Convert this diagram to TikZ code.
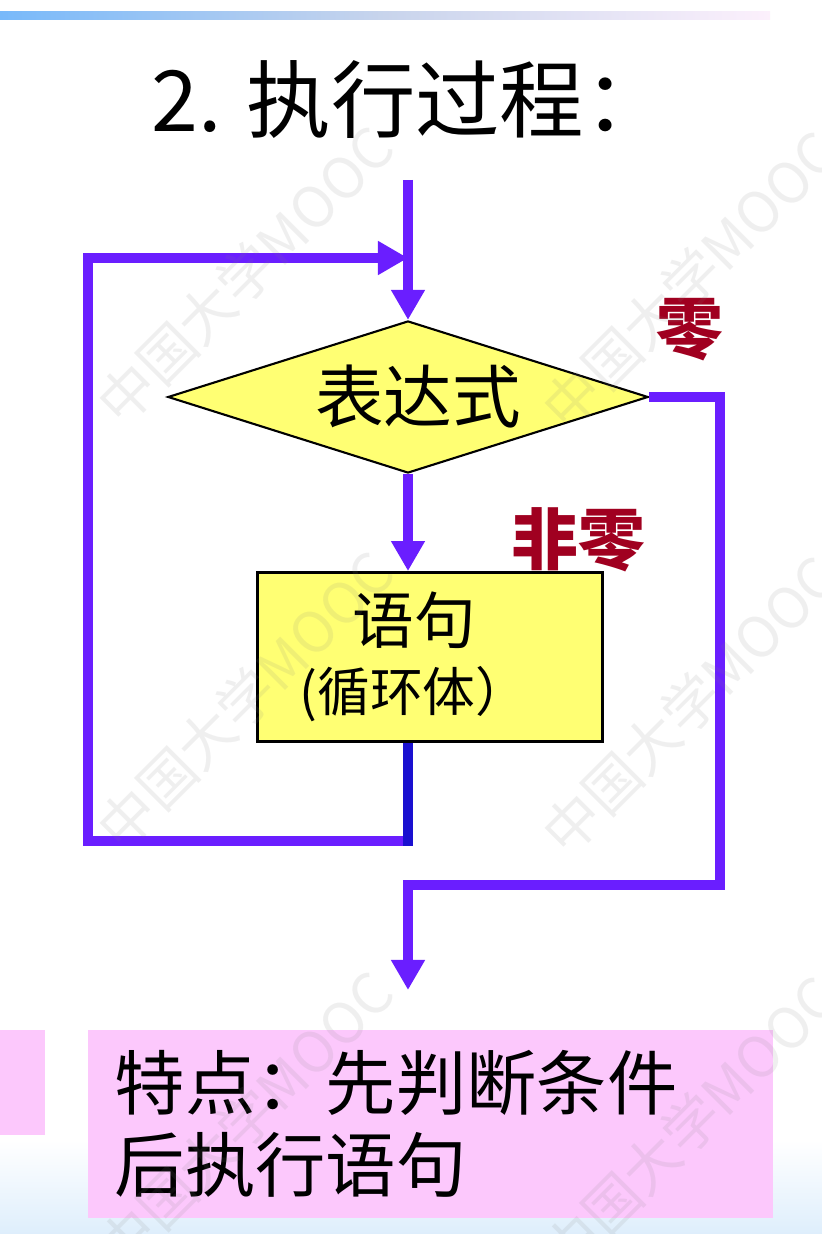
\documentclass[tikz,border=0pt]{standalone}
\usepackage{fontspec}
\setmainfont{Noto Sans CJK SC}
\usetikzlibrary{arrows.meta,shapes.geometric}
\definecolor{flowc}{RGB}{106,30,255}
\definecolor{backc}{RGB}{26,16,208}
\definecolor{condfill}{RGB}{255,255,115}
\definecolor{notefill}{RGB}{252,200,252}
\definecolor{lblc}{RGB}{160,0,32}
\definecolor{barl}{RGB}{120,185,250}
\definecolor{barm}{RGB}{200,212,236}
\definecolor{barr}{RGB}{252,240,252}
\definecolor{floorc}{RGB}{222,238,252}

\begin{document}
\begin{tikzpicture}[
  x=0.01cm, y=-0.01cm,
  >=Latex,
  flow/.style={draw=flowc,line width=1mm,-{Triangle[length=3mm,width=3.2mm]}},
  back/.style={draw=backc,line width=1mm},
  cond/.style={diamond,draw,line width=0.6pt,fill=condfill,aspect=3.16,
    minimum width=4.8cm,minimum height=1.52cm,inner sep=0pt,
    font=\fontsize{19.5pt}{22pt}\selectfont},
  stmt/.style={rectangle,draw,line width=0.8pt,fill=condfill,
    minimum width=3.44cm,minimum height=1.69cm,inner sep=0pt},
  lbl/.style={text=lblc,inner sep=0pt,font=\fontsize{19pt}{22pt}\selectfont\bfseries},
  note/.style={rectangle,fill=notefill,text width=6.31cm,inner xsep=0.27cm,
    minimum height=1.88cm,align=left,font=\fontsize{20pt}{23.4pt}\selectfont},
  wmark/.style={rotate=45,text=gray,opacity=0.12,font=\fontsize{16pt}{18pt}\selectfont},
]
\useasboundingbox (0,0) rectangle (822,1234);

% ---------- page ----------
\fill[white] (0,0) rectangle (822,1234);
\shade[left color=barl,right color=barr,middle color=barm] (0,12) rectangle (770,20);
\shade[top color=white,bottom color=floorc] (0,1140) rectangle (822,1234);

\node[font=\fontsize{24pt}{28pt}\selectfont] (ttl) at (410,100) {2. 执行过程：};

% ---------- flow chart ----------
\coordinate (start)  at (408,180);
\coordinate (loopbl) at (88,841);
\coordinate (looptl) at (88,258);
\coordinate (exitbr) at (720,885);
\coordinate (stop)   at (408,990);

\node[cond] (test) at (408,397) {\hspace*{0.2cm}表达式};
\node[stmt] (body) at (430,657) {};
\node[align=center,inner sep=0pt,font=\fontsize{17.5pt}{19.5pt}\selectfont] (bodytxt) at (414,657)
  {语句\\{\fontsize{15pt}{19pt}\selectfont (循环体）}};

\node[lbl] (zero)    at (690,330) {零};
\node[lbl] (nonzero) at (578,540) {非零};

\draw[flow] (start) -- (test.north);
\draw[flow] (test.south) -- (test.south |- body.north);
\draw[flow] (test.south |- loopbl) -- (loopbl) -- (looptl) -- (looptl -| test.north);
\draw[back] (test.south |- body.south) -- ([yshift=-0.05cm]test.south |- loopbl);
\draw[flow] (test.east) -| (exitbr) -- (exitbr -| stop) -- (stop);

% ---------- note ----------
\fill[notefill] (0,1030) rectangle (45,1135);
\node[note] (feat) at (430.5,1124) {特点：先判断条件\\后执行语句};

% ---------- watermark ----------
\foreach \wx/\wy [count=\i] in {245/275,690/280,245/700,690/705,245/1120,690/1125}
  \node[wmark] (wm\i) at (\wx,\wy) {中国大学MOOC};

\end{tikzpicture}
\end{document}
